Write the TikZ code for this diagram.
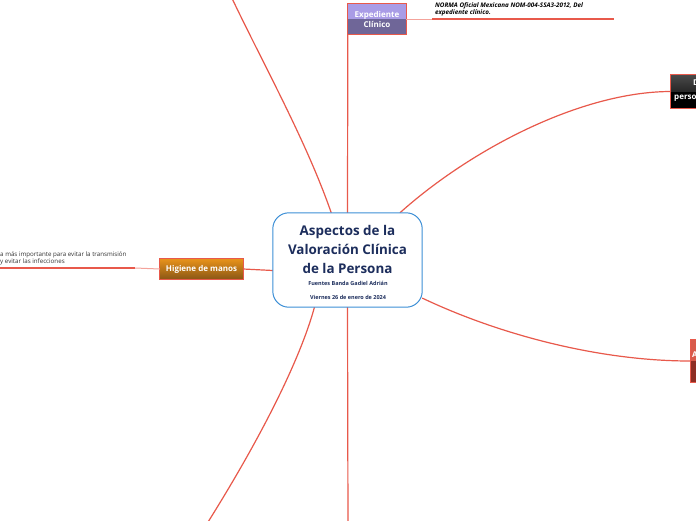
\documentclass[tikz,border=0pt]{standalone}
\usepackage{fontspec}
\setmainfont{Open Sans}
\definecolor{linered}{HTML}{E8594B}
\definecolor{linepink}{HTML}{F4A39B}
\definecolor{navy}{HTML}{1C2D5C}
\definecolor{boxblue}{HTML}{3D8FD6}
\definecolor{expTop}{HTML}{A99CE6}
\definecolor{expBot}{HTML}{6F6698}
\definecolor{higTop}{HTML}{E8921A}
\definecolor{higBot}{HTML}{8A5716}
\definecolor{blkTop}{HTML}{4A4A4A}
\definecolor{redTop}{HTML}{D85A4B}
\definecolor{redBot}{HTML}{8E2E24}
\definecolor{notegray}{HTML}{333333}
\tikzset{
  conn/.style={draw=linered, line width=1.2pt},
  thinconn/.style={draw=linepink, line width=1pt},
  uline/.style={draw=linered, line width=1.4pt},
  centerbox/.style={draw=boxblue, line width=1pt, rounded corners=16pt, fill=white,
    minimum width=149pt, minimum height=94pt, inner sep=0pt},
  boxframe/.style={draw=linered, line width=1pt},
  plainbox/.style={inner sep=0pt},
  wtext/.style={text=white, font=\fontsize{8}{10}\selectfont\bfseries, inner sep=0pt},
  notetext/.style={font=\fontsize{6.2}{7.4}\selectfont, text=notegray, inner sep=0pt, align=left},
}
\begin{document}
\begin{tikzpicture}[x=1pt,y=-1pt]
\useasboundingbox (0,0) rectangle (696,520);
\clip (0,0) rectangle (696,520);
\fill[white] (0,0) rectangle (696,520);

% off-picture ends
\coordinate (tl) at (229,-8);
\coordinate (bl) at (203,530);
\coordinate (bot) at (348,530);

% node placeholders
\node[plainbox, minimum width=149pt, minimum height=94pt] (c) at (347.5,260) {};
\node[plainbox, minimum width=58pt, minimum height=30pt] (e) at (377,19) {};
\node[plainbox, minimum width=83pt, minimum height=20pt] (h) at (201.5,269) {};
\node[plainbox, minimum width=60pt, minimum height=33pt, anchor=west] (pb) at (670,91.5) {};
\node[plainbox, minimum width=50pt, minimum height=42pt, anchor=west] (rb) at (690,361) {};

% connectors
\draw[conn] (c.109) .. controls (306,140) and (262,62) .. (tl);
\draw[conn] (c.42) .. controls (470,150) and (580,92) .. (pb.west);
\draw[conn] (c.-27) .. controls (500,335) and (600,361) .. (rb.west);
\draw[conn] (c.235) .. controls (300,360) and (260,440) .. (bl);
\draw[conn] (c.north) -- (e.south west);
\draw[conn] (c.south) -- (bot);
\draw[conn] (c.188) -- (h.east);

% centre box
\draw[centerbox] (c.north west) rectangle (c.south east);

% expediente box
\fill[expTop] (e.north west) rectangle (e.east);
\fill[expBot] (e.west) rectangle (e.south east);
\draw[boxframe] (e.north west) rectangle (e.south east);
\node[wtext, align=center] (et) at (377,19) {Expediente\\Clínico};

% higiene box
\shade[top color=higTop, bottom color=higBot] (h.north west) rectangle (h.south east);
\draw[boxframe] (h.north west) rectangle (h.south east);
\node[wtext] (ht) at (201.5,269) {Higiene de manos};

% black box
\shade[top color=blkTop, bottom color=black!85] (pb.north west) rectangle (pb.east);
\fill[black] (pb.west) rectangle (pb.south east);
\draw[boxframe] (pb.north west) rectangle (pb.south east);
\node[wtext, anchor=base west] (pt1) at (693,85) {Datos};
\node[wtext, anchor=base west] (pt2) at (674,99) {persona};

% red box
\fill[redTop] (rb.north west) rectangle (rb.east);
\fill[redBot] (rb.west) rectangle (rb.south east);
\draw[boxframe] (rb.north west) rectangle (rb.south east);
\node[wtext, anchor=base west] (rt) at (692,357) {A};

% notes
\coordinate (n0) at (432,19);
\coordinate (n1) at (614,19);
\draw[thinconn] (e.east) -- (n0);
\draw[uline] (n0) -- (n1);
\node[notetext, anchor=south west, font=\fontsize{6.3}{7.2}\selectfont\bfseries\itshape, text=black] (nt) at (435,16)
  {NORMA Oficial Mexicana NOM-004-SSA3-2012, Del\\expediente clínico.};

\coordinate (h0) at (135,268);
\coordinate (h1) at (-5,268);
\draw[thinconn] (h.west) -- (h0);
\draw[uline] (h0) -- (h1);
\node[notetext, anchor=south west] (htx) at (0,265.5)
  {a más importante para evitar la transmisión\\y evitar las infecciones};

% centre text
\node[text=navy, align=center, inner sep=0pt, font=\fontsize{13.4}{19}\selectfont\bfseries] (title) at (347.5,249)
  {Aspectos de la\\Valoración Clínica\\de la Persona};
\node[text=navy, inner sep=0pt, font=\fontsize{5.5}{6}\selectfont\bfseries] (s1) at (348,283) {Fuentes Banda Gadiel Adrián};
\node[text=navy, inner sep=0pt, font=\fontsize{5.5}{6}\selectfont\bfseries] (s2) at (348,297) {Viernes 26 de enero de 2024};
\end{tikzpicture}
\end{document}
